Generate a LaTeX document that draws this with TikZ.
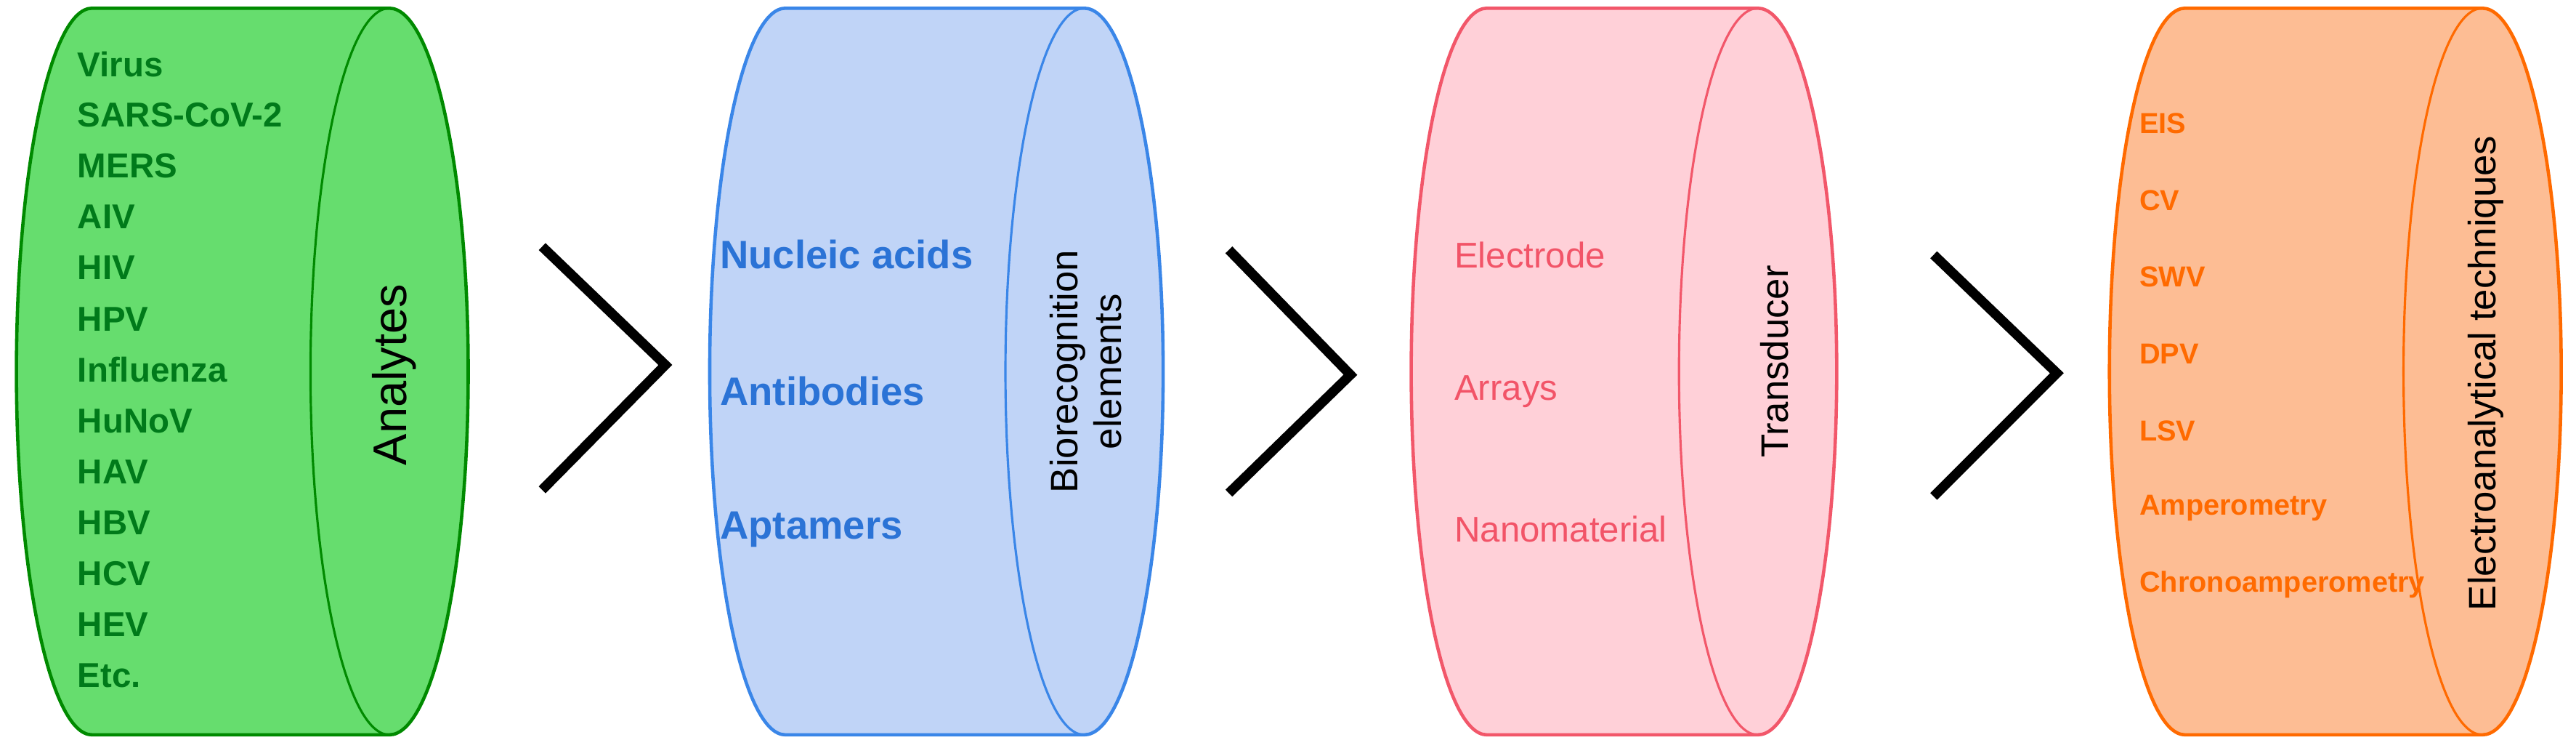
\documentclass[tikz,border=0pt]{standalone}
\usepackage{fontspec}
\setmainfont{Liberation Sans}
\definecolor{gfill}{HTML}{66DD6E}\definecolor{gline}{HTML}{008A00}\definecolor{gtext}{HTML}{007A1A}
\definecolor{bfill}{HTML}{C0D4F7}\definecolor{bline}{HTML}{3A86E8}\definecolor{btext}{HTML}{2B73D6}
\definecolor{pfill}{HTML}{FFD0D8}\definecolor{pline}{HTML}{F2576A}\definecolor{ptext}{HTML}{F25468}
\definecolor{ofill}{HTML}{FDBD94}\definecolor{oline}{HTML}{FF6A00}\definecolor{otext}{HTML}{FF6A00}
\tikzset{
  item/.style={anchor=west,font=\fontsize{13.5}{15}\selectfont\bfseries,inner sep=0pt},
  oitem/.style={anchor=west,font=\fontsize{11.3}{13}\selectfont\bfseries,inner sep=0pt,text=otext},
  title/.style={rotate=90,font=\fontsize{15}{17}\selectfont,align=center,inner sep=0pt},
  chev/.style={line width=3.8pt,black}
}
\newcommand{\mycyl}[4]{% left centre, right centre, fill, line
  \draw[fill=#3,draw=#4,line width=1.3pt] (#1,445) arc[start angle=90,end angle=270,x radius=46,y radius=221] -- (#2,3) arc[start angle=-90,end angle=90,x radius=48,y radius=221] -- cycle;
  \draw[draw=#4,line width=0.9pt] (#2,445) arc[start angle=90,end angle=270,x radius=48,y radius=221];
}
\begin{document}
\begin{tikzpicture}[x=0.022615cm,y=0.022615cm]
\useasboundingbox (0,0) rectangle (1568,450);
\mycyl{56}{237}{gfill}{gline}
\mycyl{478}{660}{bfill}{bline}
\mycyl{905}{1070}{pfill}{pline}
\mycyl{1330}{1511}{ofill}{oline}
% green list
\foreach \t [count=\i from 0] in {Virus,SARS-CoV-2,MERS,AIV,HIV,HPV,Influenza,HuNoV,HAV,HBV,HCV,HEV,Etc.}
  \node[item,text=gtext] (g\i) at (47,{450-39-31*\i}) {\t};
\node[title,font=\fontsize{18.5}{20}\selectfont] (analytes) at (240,222) {Analytes};
% blue
\node[item,text=btext,font=\fontsize{15.5}{17}\selectfont\bfseries] (b1) at (438,295) {Nucleic acids};
\node[item,text=btext,font=\fontsize{15.5}{17}\selectfont\bfseries] (b2) at (438,212) {Antibodies};
\node[item,text=btext,font=\fontsize{15.5}{17}\selectfont\bfseries] (b3) at (438,128) {Aptamers};
\node[title] (bio) at (661,224) {Biorecognition\\elements};
% pink
\node[item,text=ptext,font=\fontsize{14}{16}\selectfont] (p1) at (885,295) {Electrode};
\node[item,text=ptext,font=\fontsize{14}{16}\selectfont] (p2) at (885,212) {Arrays};
\node[item,text=ptext,font=\fontsize{14}{16}\selectfont] (p3) at (885,128) {Nanomaterial};
\node[title] (trans) at (1080,230) {Transducer};
% orange
\foreach \t [count=\i from 0] in {EIS,CV,SWV,DPV,LSV,Amperometry,Chronoamperometry}
  \node[oitem] (o\i) at (1302,{450-75-46.8*\i}) {\t};
\node[title] (elec) at (1513,223) {Electroanalytical techniques};
% chevrons
\draw[chev] (330,300) -- (405,228) -- (330,152);
\draw[chev] (748,298) -- (822,222) -- (748,150);
\draw[chev] (1177,295) -- (1252,223) -- (1177,148);
\end{tikzpicture}
\end{document}
